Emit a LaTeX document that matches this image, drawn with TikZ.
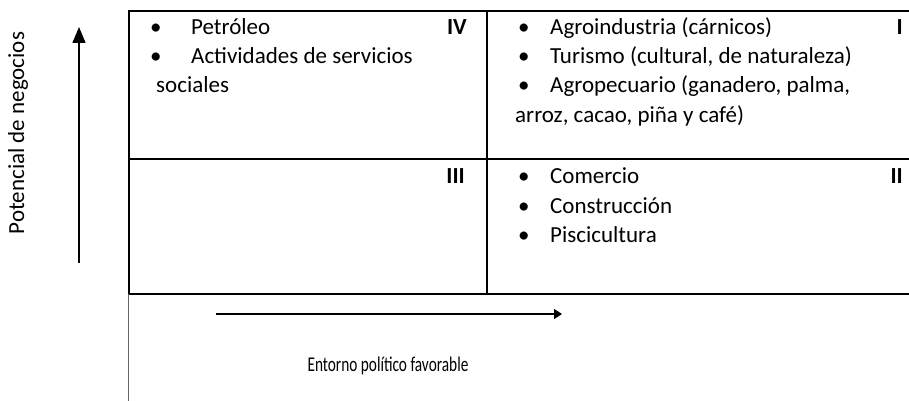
\documentclass[tikz,border=0pt]{standalone}
\usepackage{fontspec}
\usepackage{graphicx}
\setmainfont{Carlito}
\usetikzlibrary{arrows.meta}
\begin{document}
\begin{tikzpicture}[x=1pt,y=-1pt,
  txt/.style={anchor=base west, inner sep=0pt, font=\fontsize{23}{28}\selectfont},
  num/.style={anchor=base east, inner sep=0pt, font=\fontsize{23}{28}\selectfont\bfseries},
  frame/.style={line width=2pt},
  axis/.style={line width=1.5pt},
]
\useasboundingbox (0,0) rectangle (909,401);
% frame
\draw[frame] (909,11) -- (129,11) -- (129,294) -- (909,294);
\draw[frame] (129,159) -- (909,159);
\draw[frame] (487,11) -- (487,294);
\draw[line width=1pt, black!60] (128,294) -- (128,401);
% axes
\coordinate (vs) at (79,263); \coordinate (ve) at (79,27);
\draw[axis, -{Triangle[length=16pt,width=13pt]}] (vs) -- (ve);
\coordinate (hs) at (216,314); \coordinate (he) at (562,314);
\draw[axis, -{Triangle[length=8pt,width=10pt]}] (hs) -- (he);
\node[rotate=90, inner sep=0pt, font=\fontsize{23}{28}\selectfont] (yl) at (18,133) {Potencial de negocios};
\node[inner sep=0pt, font=\fontsize{21}{25}\selectfont] (xl) at (388,366) {\scalebox{0.73}[1]{Entorno político favorable}};
% quadrant IV
\node[txt] (b41) at (150,35) {•};
\node[txt] (t41) at (191,35) {Petróleo};
\node[txt] (b42) at (150,64) {•};
\node[txt] (t42) at (191,64) {Actividades de servicios};
\node[txt] (t43) at (156,93) {sociales};
\node[num] (n4) at (467,35) {IV};
% quadrant I
\node[txt] (b11) at (518,35) {•};
\node[txt] (t11) at (550,35) {Agroindustria (cárnicos)};
\node[txt] (b12) at (518,64) {•};
\node[txt] (t12) at (550,64) {Turismo (cultural, de naturaleza)};
\node[txt] (b13) at (518,93) {•};
\node[txt] (t13) at (550,93) {Agropecuario (ganadero, palma,};
\node[txt] (t14) at (515,122) {arroz, cacao, piña y café)};
\node[num] (n1) at (903,35) {I};
% quadrant III
\node[num] (n3) at (465,183) {III};
% quadrant II
\node[txt] (b21) at (518,183) {•};
\node[txt] (t21) at (550,183) {Comercio};
\node[txt] (b22) at (518,213) {•};
\node[txt] (t22) at (550,213) {Construcción};
\node[txt] (b23) at (518,242) {•};
\node[txt] (t23) at (550,242) {Piscicultura};
\node[num] (n2) at (903,183) {II};
\end{tikzpicture}
\end{document}
